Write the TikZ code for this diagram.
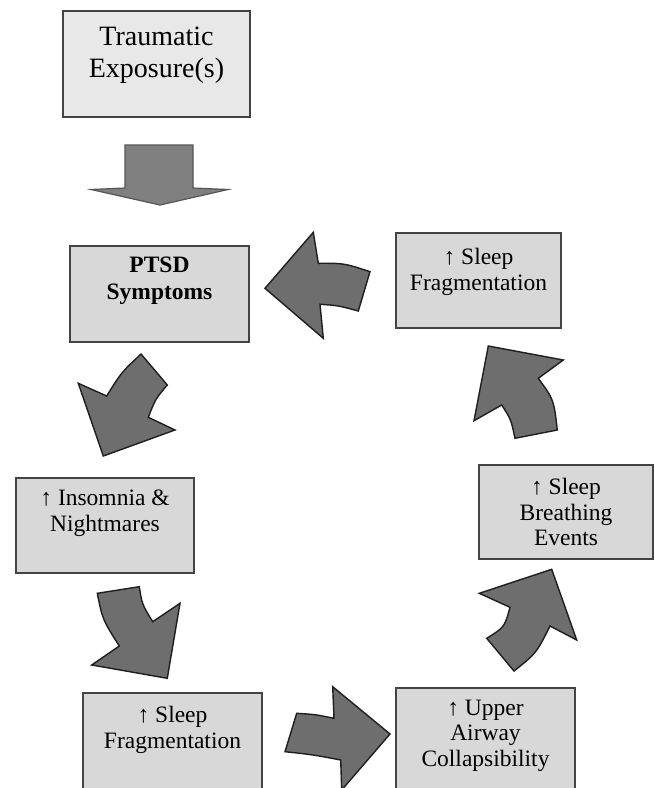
\documentclass[tikz,border=0pt]{standalone}
\usepackage{fontspec}
\setmainfont{Liberation Serif}
\definecolor{boxfill}{HTML}{D8D8D8}
\definecolor{topfill}{HTML}{E8E8E8}
\definecolor{boxline}{HTML}{444444}
\definecolor{arrowfill}{HTML}{6E6E6E}
\definecolor{arrowline}{HTML}{1E1E1E}
\definecolor{downfill}{HTML}{808080}
\definecolor{downline}{HTML}{555555}
\begin{document}
\begin{tikzpicture}[x=1pt,y=-1pt,
  box/.style={draw=boxline, line width=1.8pt, fill=boxfill, inner sep=0pt},
  lbl/.style={inner sep=0pt, align=center, anchor=north, text=black,
    font=\fontsize{23.5}{25.5}\selectfont},
  bent/.style={draw=arrowline, fill=arrowfill, line width=1.4pt, line join=miter},
  down/.style={draw=downline, fill=downfill, line width=1.2pt, line join=miter}]
\clip (0,0) rectangle (654,788);
\fill[white] (0,0) rectangle (654,788);

% boxes
\node[box, fill=topfill, minimum width=187pt, minimum height=106pt] (trauma) at (156.5,64) {};
\node[box, minimum width=179pt, minimum height=96pt] (ptsd) at (159.5,294) {};
\node[box, minimum width=165pt, minimum height=95pt] (fragtop) at (478.5,280.5) {};
\node[box, minimum width=178pt, minimum height=95pt] (insom) at (105,525.5) {};
\node[box, minimum width=179pt, minimum height=110pt] (fragbot) at (172.5,748) {};
\node[box, minimum width=179pt, minimum height=110pt] (airway) at (485.5,743) {};
\node[box, minimum width=174pt, minimum height=94pt] (breath) at (566,512) {};

% box texts
\node[lbl, font=\fontsize{28}{32}\selectfont] (trauma-t) at (156.5,27) {Traumatic\\Exposure(s)};
\node[lbl, font=\fontsize{23.5}{26.5}\selectfont\bfseries] (ptsd-t) at (159.5,257) {PTSD\\Symptoms};
\node[lbl] (fragtop-t) at (478.5,248) {↑ Sleep\\Fragmentation};
\node[lbl] (insom-t) at (105,490) {↑ Insomnia \&\\Nightmares};
\node[lbl] (fragbot-t) at (172.5,706) {↑ Sleep\\Fragmentation};
\node[lbl] (airway-t) at (485.5,699.5) {↑ Upper\\Airway\\Collapsibility};
\node[lbl] (breath-t) at (566,478) {↑ Sleep\\Breathing\\Events};

% straight block arrow from the top box
\draw[down] (125,145) -- (193,145) -- (193,188) -- (228,189.5) -- (160,205)
  -- (91,189.5) -- (125,188) -- cycle;

% curved block arrows around the cycle
\draw[bent] (265,288.3) -- (313.3,232.3) -- (318.3,263.3)
  .. controls (344.2,263.2) .. (370,271.7) -- (358.3,311)
  .. controls (338,305.5) .. (320,304.3) -- (323.3,338.3) -- cycle;

\draw[bent] (141,354) -- (167.3,385) .. controls (155.5,398.9) .. (148.3,417.3)
  -- (175,430) -- (103.3,456) -- (78.3,383.3) -- (106.7,396)
  .. controls (121.1,372.7) .. (141,354) -- cycle;

\draw[bent] (97.3,593.3) -- (139.3,586.7) .. controls (142,604.2) .. (152.7,621.7)
  -- (180,603.3) -- (167.3,678.3) -- (91.7,665) -- (119.3,646)
  .. controls (102.6,619.7) .. (97.3,593.3) -- cycle;

\draw[bent] (296.7,713.3) .. controls (315.6,714.5) .. (334,718.3) -- (332.7,686.7)
  -- (390,734) -- (341.7,790) -- (340.7,760)
  .. controls (312.8,754.7) .. (285,751.7) -- cycle;

\draw[bent] (514,671) -- (486.7,638.3) .. controls (504.6,627.1) .. (510,607.3)
  -- (479.3,593.3) -- (551.7,569.3) -- (576.7,640) -- (550,626)
  .. controls (536.4,653.2) .. (514,671) -- cycle;

\draw[bent] (515,438.3) -- (557.3,430) .. controls (553.8,399.5) .. (538.3,378.3)
  -- (563.3,360) -- (488.3,346) -- (474,420.7) -- (501.7,405)
  .. controls (511,419.4) .. (515,438.3) -- cycle;
\end{tikzpicture}
\end{document}
